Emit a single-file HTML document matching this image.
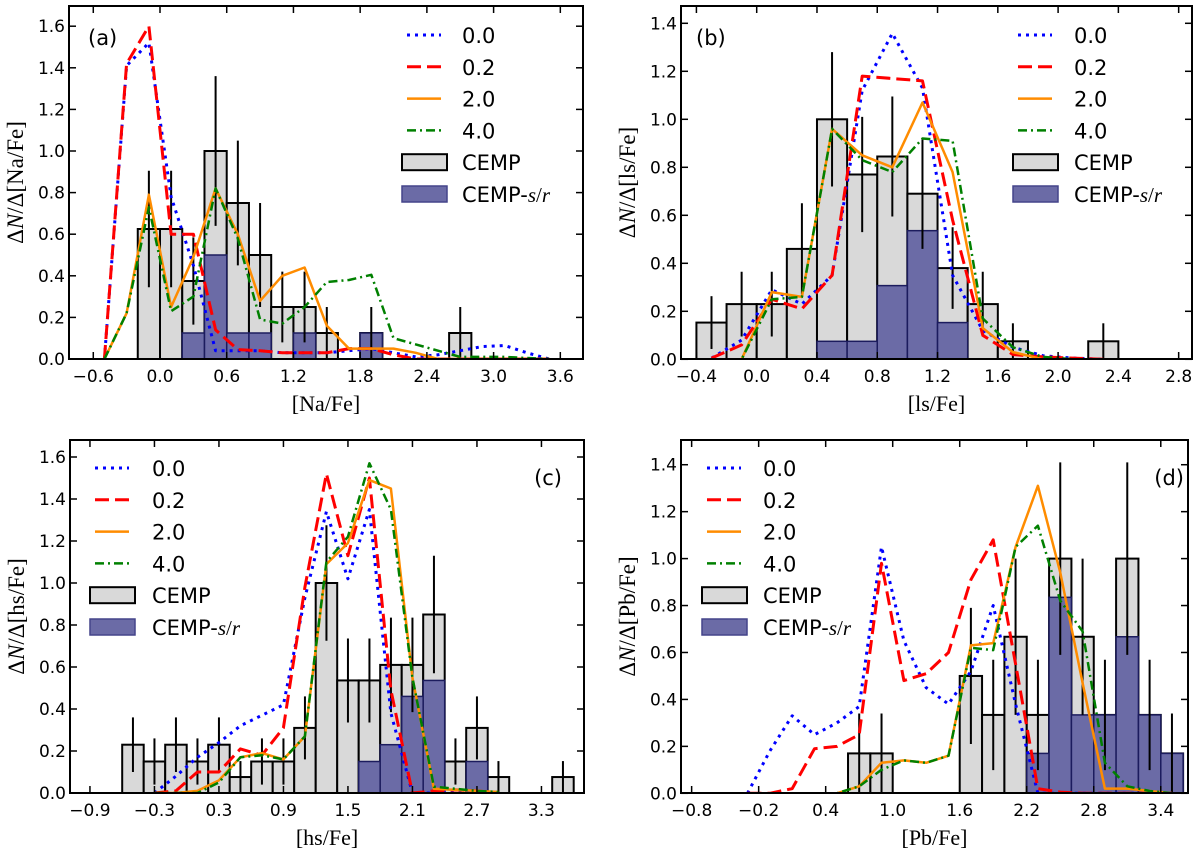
<!DOCTYPE html>
<html><head><meta charset="utf-8"><style>
html,body{margin:0;padding:0;background:#fff;}
svg{display:block;}
text{font-family:"DejaVu Sans","Liberation Sans",sans-serif;}
.ser{font-family:"Liberation Serif","DejaVu Serif",serif;}
</style></head><body>
<svg id="fig" width="1200" height="855" viewBox="0 0 1200 855" xmlns="http://www.w3.org/2000/svg"></svg>
<script>
// ---------- Panel (a) [Na/Fe] ----------
const binsA = [-0.2,0.0,0.2,0.4,0.6,0.8,1.0,1.2,1.4,1.6,1.8,2.0,2.2,2.4,2.6];
const cempA = [0.625,0.625,0.375,1.0,0.75,0.5,0.25,0.25,0.125,0,0.125,0,0,0,0.125];
const srA   = [0,0,0.125,0.5,0.125,0.125,0,0.125,0,0,0.125,0,0,0,0];
const errA  = [0.28,0.28,0.21,0.36,0.3,0.25,0.17,0.17,0.125,0,0.125,0,0,0,0.125];
const modXA = [-0.5,-0.3,-0.1,0.1,0.3,0.5,0.7,0.9,1.1,1.3,1.5,1.7,1.9,2.1,2.3,2.5,2.7,2.9,3.1,3.3,3.5];
const m00A  = [0,1.41,1.52,0.78,0.45,0.04,0.04,0.04,0.03,0.03,0.03,0.04,0.05,0.03,0.01,0.02,0.04,0.06,0.065,0.03,0];
const m02A  = [0,1.42,1.60,0.60,0.60,0.14,0.045,0.04,0.03,0.03,0.03,0.05,0.05,0.02,0,0,0,0,0,0,0];
const m20A  = [0,0.22,0.79,0.25,0.49,0.82,0.60,0.28,0.40,0.44,0.16,0.05,0.05,0.05,0.03,0,0,0,0,0,0];
const m40A  = [0,0.22,0.73,0.23,0.30,0.82,0.58,0.19,0.17,0.25,0.37,0.38,0.405,0.10,0.07,0.04,0.01,0.01,0.01,0.005,0];
const xTicksA = ["-0.6","0.0","0.6","1.2","1.8","2.4","3.0","3.6"];
const yTicksA = ["0.0","0.2","0.4","0.6","0.8","1.0","1.2","1.4","1.6"];

// ---------- Panel (b) [ls/Fe] ----------
const binsB = [-0.4,-0.2,0.0,0.2,0.4,0.6,0.8,1.0,1.2,1.4,1.6,1.8,2.0,2.2];
const cempB = [0.153,0.23,0.23,0.46,1.0,0.77,0.845,0.69,0.38,0.23,0.075,0,0,0.075];
const srB   = [0,0,0,0,0.075,0.075,0.307,0.536,0.153,0,0,0,0,0];
const errB  = [0.11,0.135,0.135,0.19,0.28,0.24,0.25,0.23,0.17,0.135,0.075,0,0,0.075];
const modXB = [-0.3,-0.1,0.1,0.3,0.5,0.7,0.9,1.1,1.3,1.5,1.7,1.9,2.1,2.3];
const m00B  = [0.005,0.08,0.29,0.23,0.35,1.12,1.358,1.13,0.35,0.12,0.05,0.015,0.005,0];
const m02B  = [0.005,0.06,0.25,0.21,0.35,1.18,1.17,1.16,0.58,0.10,0.02,0.01,0.005,0];
const m20B  = [0,0,0.28,0.26,0.96,0.85,0.80,1.07,0.78,0.13,0.03,0,0,0];
const m40B  = [0,0,0.25,0.26,0.96,0.83,0.78,0.92,0.91,0.17,0.05,0.01,0,0];
const xTicksB = ["-0.4","0.0","0.4","0.8","1.2","1.6","2.0","2.4","2.8"];
const yTicksB = ["0.0","0.2","0.4","0.6","0.8","1.0","1.2","1.4"];

// ---------- Panel (c) [hs/Fe] ----------
const binsC = [-0.6,-0.4,-0.2,0.0,0.2,0.4,0.6,0.8,1.0,1.2,1.4,1.6,1.8,2.0,2.2,2.4,2.6,2.8,3.0,3.2,3.4];
const cempC = [0.23,0.15,0.23,0.15,0.23,0.076,0.15,0.15,0.31,1.0,0.536,0.536,0.61,0.61,0.85,0.15,0.31,0.076,0,0,0.076];
const srC   = [0,0,0,0,0,0,0,0,0,0,0,0.15,0.23,0.46,0.536,0,0.15,0,0,0,0];
const errC  = [0.13,0.11,0.13,0.11,0.13,0.076,0.11,0.11,0.15,0.275,0.2,0.2,0.225,0.225,0.28,0.11,0.15,0.076,0,0,0.076];
const modXC = [-0.3,-0.1,0.1,0.3,0.5,0.7,0.9,1.1,1.3,1.5,1.7,1.9,2.1,2.3,2.5,2.7,2.9];
const m00C  = [0,0.08,0.17,0.24,0.32,0.37,0.42,0.93,1.34,1.02,1.35,0.38,0,0,0.01,0.005,0];
const m02C  = [0,0.01,0.10,0.10,0.21,0.18,0.31,0.98,1.52,1.13,1.50,0.49,0,0.01,0.015,0.01,0];
const m20C  = [0,0,0.01,0.06,0.17,0.19,0.16,0.27,1.09,1.19,1.49,1.45,0.55,0.02,0.015,0.01,0.005];
const m40C  = [0,0,0,0.05,0.17,0.18,0.16,0.27,1.10,1.22,1.57,1.35,0.55,0.03,0.02,0.01,0.005];
const xTicksC = ["-0.9","-0.3","0.3","0.9","1.5","2.1","2.7","3.3"];
const yTicksC = ["0.0","0.2","0.4","0.6","0.8","1.0","1.2","1.4","1.6"];

// ---------- Panel (d) [Pb/Fe] ----------
const binsD = [0.6,0.8,1.0,1.2,1.4,1.6,1.8,2.0,2.2,2.4,2.6,2.8,3.0,3.2,3.4];
const cempD = [0.17,0.17,0,0,0,0.5,0.334,0.667,0.334,1.0,0.667,0.334,1.0,0.334,0.17];
const srD   = [0,0,0,0,0,0,0,0,0.17,0.835,0.334,0.334,0.667,0.334,0.17];
const errD  = [0.17,0.17,0,0,0,0.29,0.235,0.333,0.235,0.41,0.333,0.235,0.41,0.235,0.17];
const modXD = [-0.3,-0.1,0.1,0.3,0.5,0.7,0.9,1.1,1.3,1.5,1.7,1.9,2.1,2.3,2.5,2.7,2.9,3.1,3.3,3.5];
const m00D  = [0,0.18,0.33,0.25,0.30,0.37,1.05,0.65,0.45,0.38,0.52,0.80,0.38,0,0,0,0,0,0,0];
const m02D  = [0,0,0.02,0.19,0.20,0.25,0.98,0.48,0.51,0.60,0.91,1.08,0.55,0.02,0.005,0,0,0,0,0];
const m20D  = [0,0,0,0,0,0.03,0.13,0.14,0.13,0.16,0.63,0.64,1.05,1.31,0.94,0.47,0.02,0.02,0.01,0];
const m40D  = [0,0,0,0,0,0.03,0.10,0.14,0.13,0.16,0.62,0.61,1.05,1.14,0.82,0.69,0.13,0.03,0.01,0];
const xTicksD = ["-0.8","-0.2","0.4","1.0","1.6","2.2","2.8","3.4"];
const yTicksD = ["0.0","0.2","0.4","0.6","0.8","1.0","1.2","1.4"];

const NS = "http://www.w3.org/2000/svg";
const fig = document.getElementById("fig");
function mk(tag, attrs, parent){
  const e = document.createElementNS(NS, tag);
  for (const k in attrs) e.setAttribute(k, attrs[k]);
  (parent||fig).appendChild(e);
  return e;
}

const styles = [
  {c:"#0000ff", w:3, d:"3,5"},
  {c:"#ff0000", w:3, d:"14,6"},
  {c:"#ff8c00", w:2.5, d:""},
  {c:"#008000", w:2.5, d:"9,4,2,4"}
];
const labelsLeg = ["0.0","0.2","2.0","4.0"];

function panel(cfg){
  const g = mk("g", {});
  
  
  const X = v => cfg.xa + cfg.xs * v;
  const Y = v => cfg.ya - cfg.ys * v;
  const clipId = "clip" + cfg.id;
  const cp = mk("clipPath", {id: clipId}, g);
  mk("rect", {x:cfg.L, y:cfg.T, width:cfg.R-cfg.L, height:cfg.B-cfg.T}, cp);
  const plot = mk("g", {"clip-path":"url(#"+clipId+")"}, g);
  const bw = 0.2;
  cfg.bins.forEach((b,i) => {
    const v = cfg.cemp[i]; if (v <= 0) return;
    const r = mk("rect", {x:X(b), y:Y(v), width:X(b+bw)-X(b), height:Y(0)-Y(v), fill:"#d9d9d9", stroke:"#000", "stroke-width":2}, plot);
    
    
  });
  cfg.bins.forEach((b,i) => {
    const v = cfg.sr[i]; if (v <= 0) return;
    const r = mk("rect", {x:X(b), y:Y(v), width:X(b+bw)-X(b), height:Y(0)-Y(v), fill:"#6b6ba6", stroke:"#1c1c5e", "stroke-width":1.5}, plot);
    
    
  });
  cfg.bins.forEach((b,i) => {
    const v = cfg.cemp[i], e = cfg.err[i]; if (v <= 0) return;
    const c = b + bw/2;
    const l = mk("line", {x1:X(c), x2:X(c), y1:Y(v+e), y2:Y(Math.max(0,v-e)), stroke:"#000", "stroke-width":2}, plot);
    
    
  });
  cfg.models.forEach((m,k) => {
    const pts = cfg.mx.map((x,i) => X(x).toFixed(1)+","+Y(m[i]).toFixed(1)).join(" ");
    const s = styles[k];
    const p = mk("polyline", {points:pts, fill:"none", stroke:s.c, "stroke-width":s.w, "stroke-dasharray":s.d, "stroke-linejoin":"round"}, plot);
    
    
  });
  const fr = mk("rect", {x:cfg.L, y:cfg.T, width:cfg.R-cfg.L, height:cfg.B-cfg.T, fill:"none", stroke:"#000", "stroke-width":2}, g);
  
  
  cfg.xt.forEach(t => {
    const px = X(parseFloat(t));
    mk("line", {x1:px, x2:px, y1:cfg.B, y2:cfg.B-7, stroke:"#000", "stroke-width":1.5}, g);
    mk("line", {x1:px, x2:px, y1:cfg.T, y2:cfg.T+7, stroke:"#000", "stroke-width":1.5}, g);
    const tx = mk("text", {x:px, y:cfg.B+23, "text-anchor":"middle", "font-size":17}, g);
    tx.textContent = t.replace("-", "\u2212");
    
    
  });
  cfg.yt.forEach(t => {
    const py = Y(parseFloat(t));
    mk("line", {x1:cfg.L, x2:cfg.L+7, y1:py, y2:py, stroke:"#000", "stroke-width":1.5}, g);
    mk("line", {x1:cfg.R, x2:cfg.R-7, y1:py, y2:py, stroke:"#000", "stroke-width":1.5}, g);
    const tx = mk("text", {x:cfg.L-4, y:py+6, "text-anchor":"end", "font-size":17}, g);
    tx.textContent = t;
    
    
  });
  const xt = mk("text", {x:(cfg.L+cfg.R)/2, y:cfg.B+52, "text-anchor":"middle", "font-size":22, class:"ser"}, g);
  xt.textContent = "[" + cfg.el + "/Fe]";
  
  
  const cy = (cfg.T+cfg.B)/2;
  const yt = mk("text", {x:0, y:0, "text-anchor":"middle", "font-size":23, class:"ser", transform:"translate("+(cfg.L-46)+","+cy+") rotate(-90)"}, g);
  yt.innerHTML = 'Δ<tspan font-style="italic">N</tspan>/Δ[' + cfg.el + '/Fe]';
  
  
  const pl = mk("text", {x:cfg.plx, y:cfg.ply, "font-size":21, "text-anchor":cfg.pla}, g);
  pl.textContent = "(" + cfg.id + ")";
  
  
  const lg = mk("g", {}, g);
  
  
  const rows = [0,31.8,63.6,95.4,127.2,159];
  styles.forEach((s,k) => {
    const y = cfg.lgy + rows[k];
    mk("line", {x1:cfg.lgx, x2:cfg.lgx+34, y1:y, y2:y, stroke:s.c, "stroke-width":s.w, "stroke-dasharray":s.d}, lg);
    const t = mk("text", {x:cfg.lgt, y:y+8, "font-size":21}, lg);
    t.textContent = labelsLeg[k];
    
    
  });
  mk("rect", {x:cfg.lgx-5, y:cfg.lgy+rows[4]-8, width:45, height:16, fill:"#d9d9d9", stroke:"#000", "stroke-width":2}, lg);
  const t1 = mk("text", {x:cfg.lgt, y:cfg.lgy+rows[4]+8, "font-size":21}, lg);
  t1.textContent = "CEMP";
  
  
  mk("rect", {x:cfg.lgx-5, y:cfg.lgy+rows[5]-8, width:45, height:16, fill:"#6b6ba6", stroke:"#44448a", "stroke-width":1.5}, lg);
  const t2 = mk("text", {x:cfg.lgt, y:cfg.lgy+rows[5]+8, "font-size":21}, lg);
  t2.innerHTML = 'CEMP-<tspan class="ser" font-style="italic">s</tspan><tspan class="ser">/</tspan><tspan class="ser" font-style="italic">r</tspan>';
  
  
}

panel({id:"a", el:"Na", L:69, R:583, T:6, B:359, xa:160, xs:111.2, ya:359, ys:208,
  bins:binsA, cemp:cempA, sr:srA, err:errA, mx:modXA, models:[m00A,m02A,m20A,m40A],
  xt:xTicksA, yt:yTicksA, plx:88, ply:45, pla:"start", lgx:407, lgy:35, lgt:462});
panel({id:"b", el:"ls", L:681, R:1192, T:6, B:359, xa:756.7, xs:150.7, ya:359.3, ys:240,
  bins:binsB, cemp:cempB, sr:srB, err:errB, mx:modXB, models:[m00B,m02B,m20B,m40B],
  xt:xTicksB, yt:yTicksB, plx:696, ply:45, pla:"start", lgx:1018, lgy:35, lgt:1074});
panel({id:"c", el:"hs", L:70, R:584, T:440, B:793, xa:186.7, xs:107.5, ya:793, ys:210,
  bins:binsC, cemp:cempC, sr:srC, err:errC, mx:modXC, models:[m00C,m02C,m20C,m40C],
  xt:xTicksC, yt:yTicksC, plx:562, ply:485, pla:"end", lgx:95, lgy:468, lgt:152});
panel({id:"d", el:"Pb", L:681, R:1188, T:440, B:793, xa:781, xs:111.7, ya:793.3, ys:234.7,
  bins:binsD, cemp:cempD, sr:srD, err:errD, mx:modXD, models:[m00D,m02D,m20D,m40D],
  xt:xTicksD, yt:yTicksD, plx:1184, ply:485, pla:"end", lgx:707, lgy:468, lgt:763});
</script>
</body></html>
